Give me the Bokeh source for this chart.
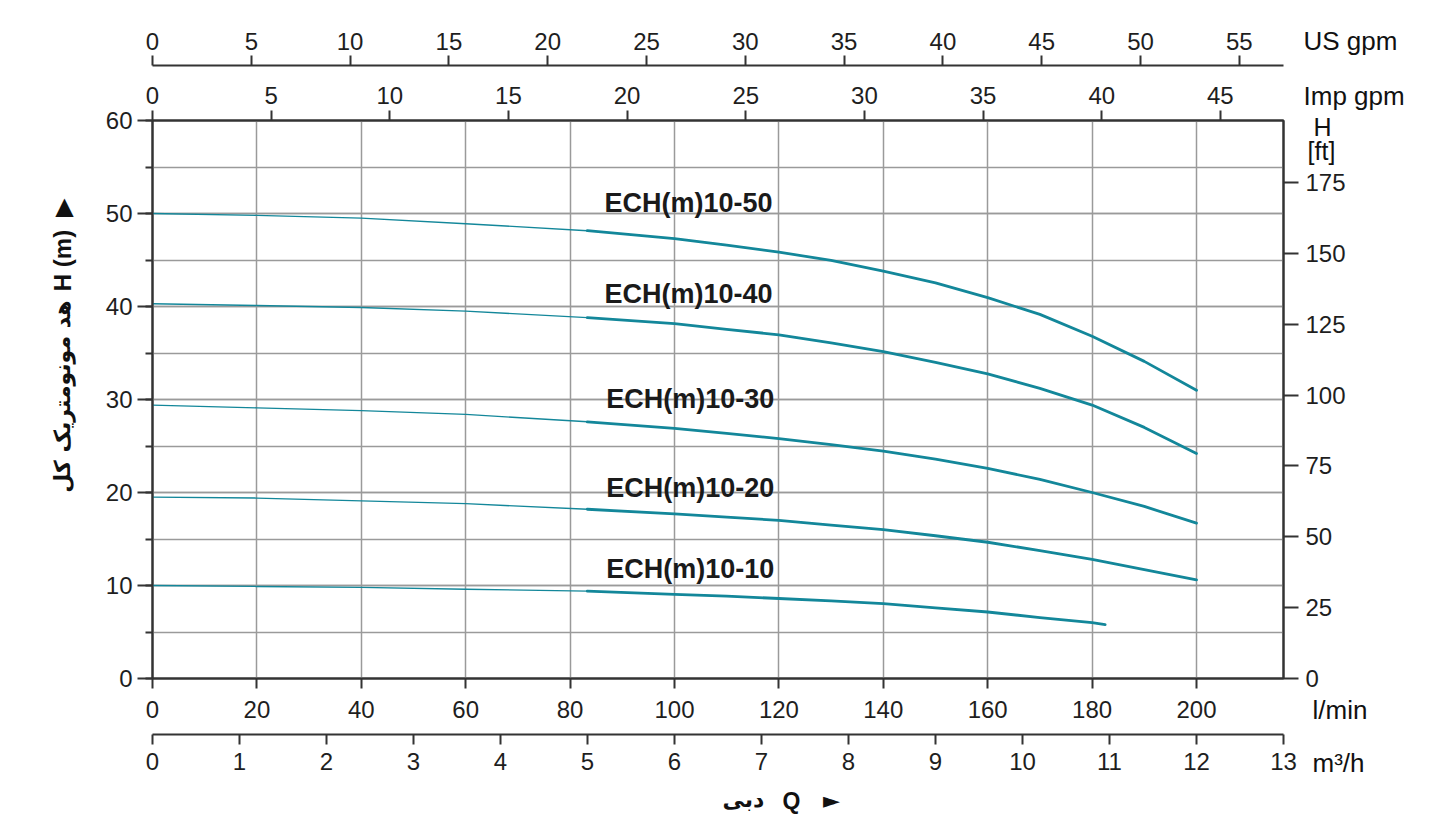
import math
from bokeh.plotting import figure
from bokeh.models import Range1d, LinearAxis, SingleIntervalTicker, Label, GridBox
from bokeh.core.properties import value
from bokeh.embed import file_html
from bokeh.resources import INLINE

# ---------------- data ----------------
Q_LPM = [0, 20, 40, 60, 83.3, 100, 110, 120, 130, 140, 150, 160, 170, 180, 190, 200]
H_10_50 = [50.0, 49.8, 49.5, 48.9, 48.15, 47.3, 46.6, 45.85, 44.95, 43.8, 42.55, 40.95, 39.15, 36.8, 34.1, 31.0]
H_10_40 = [40.3, 40.1, 39.9, 39.5, 38.8, 38.15, 37.55, 36.95, 36.1, 35.15, 34.0, 32.75, 31.2, 29.4, 27.0, 24.2]
H_10_30 = [29.4, 29.1, 28.8, 28.4, 27.6, 26.9, 26.35, 25.8, 25.15, 24.45, 23.6, 22.6, 21.4, 20.0, 18.5, 16.7]
H_10_20 = [19.5, 19.4, 19.1, 18.8, 18.2, 17.7, 17.35, 17.0, 16.5, 16.0, 15.35, 14.65, 13.75, 12.8, 11.7, 10.6]
Q_LPM_10 = [0, 20, 40, 60, 83.3, 100, 110, 120, 130, 140, 150, 160, 170, 180, 182.5]
H_10_10 = [10.0, 9.9, 9.8, 9.6, 9.4, 9.05, 8.85, 8.6, 8.35, 8.05, 7.6, 7.15, 6.55, 6.0, 5.8]
MODELS = ["ECH(m)10-50", "ECH(m)10-40", "ECH(m)10-30", "ECH(m)10-20", "ECH(m)10-10"]
OPERATING_START_LPM = 83.3   # 5 m3/h, start of the recommended range

Q_MAX_M3H = 13
H_MAX_M = 60
LPM_PER_M3H = 1000 / 60
LPM_PER_IMP = 4.54609
LPM_PER_US = 3.78541
M_PER_FT = 0.3048

UNIT_LABELS = ["US gpm", "Imp gpm", "H", "[ft]", "l/min", "m³/h"]
Y_TITLE = ["▲", "H (m)", "هد مونومتریک کل"]
X_TITLE = ["دبی", "Q", "►"]

# ---------------- figure ----------------
QMAX = Q_MAX_M3H * LPM_PER_M3H
W, H = 1430, 817
p = figure(width=W, height=H, output_backend="svg", toolbar_location=None,
           x_range=Range1d(0, QMAX), y_range=Range1d(0, H_MAX_M),
           min_border_left=152, min_border_right=147, min_border_top=120, min_border_bottom=139,
           background_fill_color="white", border_fill_color="white")
p.frame_align = False
p.outline_line_color = "#333333"
p.outline_line_width = 2
p.extra_x_ranges = {"imp": Range1d(0, QMAX / LPM_PER_IMP),
                    "us": Range1d(0, QMAX / LPM_PER_US),
                    "m3h": Range1d(0, Q_MAX_M3H)}
p.extra_y_ranges = {"ft": Range1d(0, H_MAX_M / M_PER_FT)}

FONT = "Liberation Sans"
TICK_PX = "24px"
DARK = "#333333"
TXT = "#1e1e1e"


def style_axis(ax, tick_out=10, standoff=6):
    ax.axis_line_color = DARK
    ax.axis_line_width = 2
    ax.major_tick_line_color = DARK
    ax.major_tick_line_width = 2
    ax.major_tick_in = 0
    ax.major_tick_out = tick_out
    ax.minor_tick_line_color = None
    ax.major_label_text_font = FONT
    ax.major_label_text_font_size = TICK_PX
    ax.major_label_text_color = TXT
    ax.major_label_standoff = standoff


def pad(ax, px):
    ax.axis_label = " "
    ax.axis_label_text_font_size = "2px"
    ax.axis_label_text_alpha = 0
    ax.axis_label_standoff = px


# main x axis l/min
xa = p.xaxis[0]
xa.ticker = SingleIntervalTicker(interval=20, num_minor_ticks=0)
style_axis(xa, 10, 12)
pad(xa, 9)

# m3/h axis
ax_m3 = LinearAxis(x_range_name="m3h", ticker=SingleIntervalTicker(interval=1, num_minor_ticks=0))
style_axis(ax_m3, 10, 8)
p.add_layout(ax_m3, "below")

# top axes
ax_imp = LinearAxis(x_range_name="imp", ticker=SingleIntervalTicker(interval=5, num_minor_ticks=0))
style_axis(ax_imp, 10, 7)
pad(ax_imp, 13)
p.add_layout(ax_imp, "above")
ax_us = LinearAxis(x_range_name="us", ticker=SingleIntervalTicker(interval=5, num_minor_ticks=0))
style_axis(ax_us, 10, 6)
p.add_layout(ax_us, "above")

# left axis m
ya = p.yaxis[0]
ya.ticker = SingleIntervalTicker(interval=10, num_minor_ticks=2)
style_axis(ya, 15, 5)
ya.minor_tick_line_color = DARK
ya.minor_tick_line_width = 2
ya.minor_tick_in = 0
ya.minor_tick_out = 7

# right axis ft
ax_ft = LinearAxis(y_range_name="ft", ticker=SingleIntervalTicker(interval=25, num_minor_ticks=0))
style_axis(ax_ft, 15, 7)
p.add_layout(ax_ft, "right")

# grid
GRID = "#9a9a9a"
p.xgrid.grid_line_color = GRID
p.xgrid.grid_line_width = 1.5
p.xgrid.ticker = xa.ticker
p.ygrid.grid_line_color = GRID
p.ygrid.grid_line_width = 1.5
p.ygrid.minor_grid_line_color = GRID
p.ygrid.minor_grid_line_width = 1.5
p.ygrid.ticker = ya.ticker

# ---------------- curves ----------------
CURVE = "#13879a"
series = [(Q_LPM, H_10_50), (Q_LPM, H_10_40), (Q_LPM, H_10_30), (Q_LPM, H_10_20), (Q_LPM_10, H_10_10)]
for q, h in series:
    k = q.index(OPERATING_START_LPM)
    p.line(q[:k + 1], h[:k + 1], line_color=CURVE, line_width=1.4, line_join="round")
    p.line(q[k:], h[k:], line_color=CURVE, line_width=2.8, line_join="round", line_cap="round")

label_pos = [(102.7, 51.1), (102.7, 41.3), (103.0, 30.1), (103.0, 20.5), (103.0, 11.8)]
for name, (lx, ly) in zip(MODELS, label_pos):
    p.add_layout(Label(x=lx, y=ly, text=name, text_align="center", text_baseline="middle",
                       text_font=FONT, text_font_style="bold", text_font_size="27px", text_color="#1a1a1a"))

# ---------------- overlay for texts outside the plot frame ----------------
o = figure(width=W, height=H, output_backend="svg", toolbar_location=None,
           x_range=Range1d(0, W), y_range=Range1d(0, H), min_border=0,
           x_axis_location=None, y_axis_location=None,
           background_fill_alpha=0, border_fill_alpha=0, outline_line_color=None)
o.frame_align = False
o.grid.visible = False


def otext(texts, xs, ys, size, font=FONT, align="left", bold=False, angle=0.0):
    o.text(x=xs, y=[H - y for y in ys], text=texts, text_font=value(font),
           text_font_size=value(size), text_align=align, text_baseline="middle",
           text_font_style="bold" if bold else "normal", text_color="#111111", angle=angle)


otext([UNIT_LABELS[0], UNIT_LABELS[1]], [1303, 1303], [40, 95], "26px")
otext([UNIT_LABELS[2], UNIT_LABELS[3]], [1322, 1321], [126, 150], "25px", align="center")
otext([UNIT_LABELS[4], UNIT_LABELS[5]], [1312, 1312], [709, 762], "26px")

otext([Y_TITLE[0]], [64], [205], "24px", font="DejaVu Sans", align="center")
otext([Y_TITLE[1]], [62], [260], "24px", align="center", bold=True, angle=math.pi / 2)
otext([Y_TITLE[2]], [62], [396], "22px", font="DejaVu Sans", align="center", bold=True, angle=math.pi / 2)

otext([X_TITLE[0]], [743], [799], "22px", font="DejaVu Sans", align="center", bold=True)
otext([X_TITLE[1]], [791], [800], "23px", align="center", bold=True)
otext([X_TITLE[2]], [831], [800], "22px", font="DejaVu Sans", align="center")

layout = GridBox(children=[(p, 0, 0), (o, 0, 0)])
open("out.html", "w").write(file_html(layout, INLINE))
